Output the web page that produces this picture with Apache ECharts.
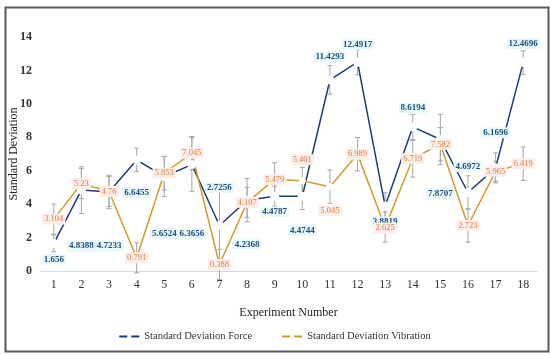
<!DOCTYPE html>
<html><head><meta charset="utf-8">
<script src="https://cdn.jsdelivr.net/npm/echarts@6/dist/echarts.min.js"></script>
<style>html,body{margin:0;padding:0;background:#fff}#c{width:550px;height:355px}</style>
</head><body><div id="c"></div>
<script>
const categories = ['1','2','3','4','5','6','7','8','9','10','11','12','13','14','15','16','17','18'];
const forceValues = [1.656, 4.8388, 4.7233, 6.6455, 5.6524, 6.3656, 2.7256, 4.2368, 4.4787, 4.4744, 11.4293, 12.4917, 3.8819, 8.6194, 7.8707, 4.6972, 6.1696, 12.4696];
const vibrationValues = [3.104, 5.23, 4.76, 0.791, 5.853, 7.045, 0.388, 4.107, 5.479, 5.401, 5.045, 6.989, 2.625, 6.719, 7.582, 2.723, 5.965, 6.419];
const forceErrors = [0.5, 1.4, 1.0, 0.7, 1.2, 1.6, 2.1, 1.3, 0.6, 0.8, 0.85, 0.75, 0.8, 0.75, 1.5, 1.0, 0.9, 0.7];
const vibrationErrors = [0.9, 0.9, 0.9, 0.9, 1.0, 1.0, 0.9, 0.9, 1.0, 0.8, 1.0, 1.0, 0.9, 1.1, 1.0, 1.0, 0.6, 1.0];
const yTicks = [0, 2, 4, 6, 8, 10, 12, 14];

// label placement (style only): vertical pixel offsets of value labels
const forceLabelDy = [16, 56, 54, 33, 57, 69, -38, 44, 16, 34, -23, -18, 16, -19, 54, -26, -35, -19];
const vibLabelDy = [0, 0, 0, 0, 0, 0, 0, 0, 0, -21, 24, 0, 1, 0, 0, 0, 0, 0];

const FONT = '"Liberation Serif", "DejaVu Serif", serif';
const FORCE_C = '#1f3c78';
const VIB_C = '#d29b2c';

function errSeries(vals, errs) {
  return vals.map((v, i) => [i, v, errs[i]]);
}
function renderErr(params, api) {
  const i = api.value(0), v = api.value(1), e = api.value(2);
  const t = api.coord([i, v + e]);
  const b = api.coord([i, v - e]);
  const w = 2.5;
  const st = { stroke: '#a6a6a6', lineWidth: 1 };
  return { type: 'group', children: [
    { type: 'line', shape: { x1: t[0], y1: t[1], x2: b[0], y2: b[1] }, style: st },
    { type: 'line', shape: { x1: t[0] - w, y1: t[1], x2: t[0] + w, y2: t[1] }, style: st },
    { type: 'line', shape: { x1: b[0] - w, y1: b[1], x2: b[0] + w, y2: b[1] }, style: st }
  ]};
}

const chart = echarts.init(document.getElementById('c'), null, { renderer: 'canvas' });
const dashIcon = 'path://M0,0H8V2H0Z M12,0H20V2H12Z';
chart.setOption({
  animation: false,
  backgroundColor: '#fff',
  textStyle: { fontFamily: FONT },
  graphic: [{ type: 'rect', left: 3, top: 5, shape: { width: 543, height: 344 }, style: { fill: 'none', stroke: '#595959', lineWidth: 2 }, z: 100 }],
  grid: { left: 40, right: 13, top: 37, bottom: 84, outerBoundsMode: 'none', containLabel: false },
  legend: {
    bottom: 8, left: 'center', itemGap: 30, itemWidth: 20, itemHeight: 2,
    textStyle: { fontFamily: FONT, fontSize: 10.5, color: '#333' },
    data: [
      { name: 'Standard Deviation Force', icon: dashIcon, itemStyle: { color: FORCE_C } },
      { name: 'Standard Deviation Vibration', icon: dashIcon, itemStyle: { color: VIB_C } }
    ]
  },
  xAxis: {
    type: 'category', data: categories,
    name: 'Experiment Number', nameLocation: 'middle', nameGap: 36, nameMoveOverlap: false,
    nameTextStyle: { fontFamily: FONT, fontSize: 12, color: '#222' },
    axisLine: { lineStyle: { color: '#d9d9d9' } },
    axisTick: { lineStyle: { color: '#d9d9d9' }, length: 4 },
    axisLabel: { fontFamily: FONT, fontSize: 12, color: '#333', margin: 8 }
  },
  yAxis: {
    type: 'value', min: 0, max: 14, interval: 2,
    name: 'Standard Deviation', nameLocation: 'middle', nameGap: 20, nameMoveOverlap: false,
    nameTextStyle: { fontFamily: FONT, fontSize: 12, color: '#222' },
    axisLine: { show: false }, axisTick: { show: false }, splitLine: { show: false },
    axisLabel: { fontFamily: FONT, fontSize: 12, color: '#333', fontWeight: 'bold', margin: 8,
      formatter: v => yTicks.includes(v) ? String(v) : '' }
  },
  series: [
    {
      name: 'Standard Deviation Force', type: 'line', z: 2,
      data: forceValues.map((v, i) => ({ value: v, label: { offset: [0, forceLabelDy[i]] } })),
      lineStyle: { color: FORCE_C, width: 1.5 },
      itemStyle: { color: '#fff', borderWidth: 0 },
      symbol: 'circle', symbolSize: 9, showAllSymbol: true,
      label: { show: true, position: 'inside', fontFamily: FONT, fontSize: 9, fontWeight: 'bold', color: '#1f4e79',
        backgroundColor: '#e9f9fc', padding: [1, 2] }
    },
    {
      name: 'Standard Deviation Vibration', type: 'line', z: 2,
      data: vibrationValues.map((v, i) => ({ value: v, label: { offset: [0, vibLabelDy[i]] } })),
      lineStyle: { color: VIB_C, width: 1.5 },
      itemStyle: { color: '#fff', borderWidth: 0 },
      symbol: 'circle', symbolSize: 7, showAllSymbol: true,
      label: { show: true, position: 'inside', fontFamily: FONT, fontSize: 8.5, color: '#e07b39',
        backgroundColor: '#fdeeea', padding: [1, 2] }
    },
    { type: 'custom', z: 1, renderItem: renderErr, data: errSeries(forceValues, forceErrors), silent: true },
    { type: 'custom', z: 1, renderItem: renderErr, data: errSeries(vibrationValues, vibrationErrors), silent: true }
  ]
});
</script></body></html>
